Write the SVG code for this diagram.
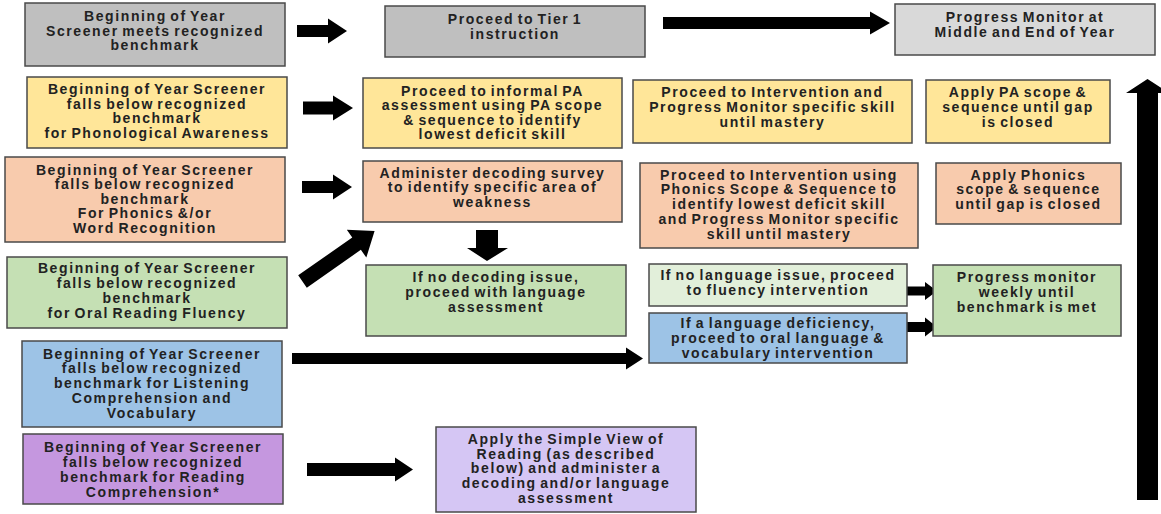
<svg xmlns="http://www.w3.org/2000/svg" width="1161" height="514" viewBox="0 0 1161 514">
<style>
.b{stroke:#4a4a4a;stroke-width:1.5}
.t{font-family:"Liberation Sans",Arial,sans-serif;font-weight:bold;font-size:14px;fill:#222;text-anchor:middle;letter-spacing:1.6px;word-spacing:-2px}
.a{fill:#000}
.gray{fill:#bfbfbf}.lgray{fill:#d9d9d9}.yel{fill:#ffe699}.pch{fill:#f8cbad}.grn{fill:#c5e0b4}.lgrn{fill:#e2efda}.blu{fill:#9dc3e6}.pur{fill:#c597df}.lav{fill:#d5c6f4}
</style>
<rect width="1161" height="514" fill="#fff"/>
<g id="connectors">
<polygon class="a" points="297,25 328,25 328,18.5 347,31 328,43.5 328,37 297,37"/>
<polygon class="a" points="663,17 870,17 870,11.5 890,23 870,34.5 870,29 663,29"/>
<polygon class="a" points="303,101.5 333,101.5 333,95.5 353,108 333,120.5 333,114.5 303,114.5"/>
<polygon class="a" points="302,181 333,181 333,174.5 352,187 333,199.5 333,193 302,193"/>
<polygon class="a" transform="translate(302.5,281.5) rotate(-35)" points="0,-7.5 66,-7.5 66,-17 88,0 66,17 66,7.5 0,7.5"/>
<polygon class="a" points="476,230 498,230 498,248 508,248 487,261 467,248 476,248"/>
<polygon class="a" points="902,286.5 925,286.5 925,282 937,291 925,300 925,295.5 902,295.5"/>
<polygon class="a" points="904,322 925,322 925,317.5 937,327 925,336.5 925,332 904,332"/>
<polygon class="a" points="292,353 626,353 626,347.5 643,358.5 626,369.5 626,364 292,364"/>
<polygon class="a" points="307,463 395,463 395,457.5 413,469.5 395,481.5 395,476 307,476"/>
<polygon class="a" points="1137,500 1137,93 1126,93 1147.5,79 1169,93 1158,93 1158,500"/>
</g>
<g id="n1"><rect class="b gray" x="25" y="3" width="260" height="63"/>
<text class="t" x="155" y="21">Beginning of Year</text><text class="t" x="155" y="35.5">Screener meets recognized</text><text class="t" x="155" y="50">benchmark</text></g>
<g id="n2"><rect class="b gray" x="385" y="6" width="260" height="51"/>
<text class="t" x="515" y="24">Proceed to Tier 1</text><text class="t" x="515" y="39">instruction</text></g>
<g id="n3"><rect class="b lgray" x="895" y="4" width="260" height="51"/>
<text class="t" x="1025" y="21.5">Progress Monitor at</text><text class="t" x="1025" y="36.5">Middle and End of Year</text></g>
<g id="n4"><rect class="b yel" x="27" y="77" width="260" height="71"/>
<text class="t" x="157" y="94">Beginning of Year Screener</text><text class="t" x="157" y="108.5">falls below recognized</text><text class="t" x="157" y="123">benchmark</text><text class="t" x="157" y="137.5">for Phonological Awareness</text></g>
<g id="n5"><rect class="b yel" x="363" y="78" width="259" height="70"/>
<text class="t" x="492.5" y="95.5">Proceed to informal PA</text><text class="t" x="492.5" y="110">assessment using PA scope</text><text class="t" x="492.5" y="124.5">&amp; sequence to identify</text><text class="t" x="492.5" y="139">lowest deficit skill</text></g>
<g id="n6"><rect class="b yel" x="633" y="80" width="279" height="63"/>
<text class="t" x="772.5" y="96.5">Proceed to Intervention and</text><text class="t" x="772.5" y="111.5">Progress Monitor specific skill</text><text class="t" x="772.5" y="126.5">until mastery</text></g>
<g id="n7"><rect class="b yel" x="926" y="80" width="184" height="63"/>
<text class="t" x="1018" y="96.5">Apply PA scope &amp;</text><text class="t" x="1018" y="111.5">sequence until gap</text><text class="t" x="1018" y="126.5">is closed</text></g>
<g id="n8"><rect class="b pch" x="5" y="157" width="280" height="85"/>
<text class="t" x="145" y="174.5">Beginning of Year Screener</text><text class="t" x="145" y="189">falls below recognized</text><text class="t" x="145" y="203.5">benchmark</text><text class="t" x="145" y="218">For Phonics &amp;/or</text><text class="t" x="145" y="233">Word Recognition</text></g>
<g id="n9"><rect class="b pch" x="363" y="161" width="259" height="61"/>
<text class="t" x="492.5" y="177.5">Administer decoding survey</text><text class="t" x="492.5" y="192">to identify specific area of</text><text class="t" x="492.5" y="206.5">weakness</text></g>
<g id="n10"><rect class="b pch" x="640" y="163" width="278" height="85"/>
<text class="t" x="779" y="179.5">Proceed to Intervention using</text><text class="t" x="779" y="194">Phonics Scope &amp; Sequence to</text><text class="t" x="779" y="208.5">identify lowest deficit skill</text><text class="t" x="779" y="223.5">and Progress Monitor specific</text><text class="t" x="779" y="238.5">skill until mastery</text></g>
<g id="n11"><rect class="b pch" x="936" y="163" width="185" height="61"/>
<text class="t" x="1028.5" y="179.5">Apply Phonics</text><text class="t" x="1028.5" y="194">scope &amp; sequence</text><text class="t" x="1028.5" y="208.5">until gap is closed</text></g>
<g id="n12"><rect class="b grn" x="7" y="257" width="280" height="71"/>
<text class="t" x="147" y="272.5">Beginning of Year Screener</text><text class="t" x="147" y="287.5">falls below recognized</text><text class="t" x="147" y="302.5">benchmark</text><text class="t" x="147" y="317.5">for Oral Reading Fluency</text></g>
<g id="n13"><rect class="b grn" x="366" y="265" width="260" height="71"/>
<text class="t" x="496" y="281.5">If no decoding issue,</text><text class="t" x="496" y="296.5">proceed with language</text><text class="t" x="496" y="311.5">assessment</text></g>
<g id="n14"><rect class="b lgrn" x="649" y="264" width="258" height="42"/>
<text class="t" x="778" y="280">If no language issue, proceed</text><text class="t" x="778" y="295">to fluency intervention</text></g>
<g id="n15"><rect class="b blu" x="649" y="313" width="258" height="50"/>
<text class="t" x="778" y="328">If a language deficiency,</text><text class="t" x="778" y="343">proceed to oral language &amp;</text><text class="t" x="778" y="358">vocabulary intervention</text></g>
<g id="n16"><rect class="b grn" x="933" y="265" width="188" height="71"/>
<text class="t" x="1027" y="281.5">Progress monitor</text><text class="t" x="1027" y="296.5">weekly until</text><text class="t" x="1027" y="311.5">benchmark is met</text></g>
<g id="n17"><rect class="b blu" x="22" y="341" width="260" height="86"/>
<text class="t" x="152" y="358.5">Beginning of Year Screener</text><text class="t" x="152" y="373">falls below recognized</text><text class="t" x="152" y="387.5">benchmark for Listening</text><text class="t" x="152" y="402.5">Comprehension and</text><text class="t" x="152" y="417.5">Vocabulary</text></g>
<g id="n18"><rect class="b pur" x="23" y="434" width="260" height="70"/>
<text class="t" x="153" y="452">Beginning of Year Screener</text><text class="t" x="153" y="466.5">falls below recognized</text><text class="t" x="153" y="481.5">benchmark for Reading</text><text class="t" x="153" y="496.5">Comprehension*</text></g>
<g id="n19"><rect class="b lav" x="436" y="427" width="260" height="85"/>
<text class="t" x="566" y="444">Apply the Simple View of</text><text class="t" x="566" y="458.5">Reading (as described</text><text class="t" x="566" y="473">below) and administer a</text><text class="t" x="566" y="488">decoding and/or language</text><text class="t" x="566" y="502.5">assessment</text></g>
</svg>
